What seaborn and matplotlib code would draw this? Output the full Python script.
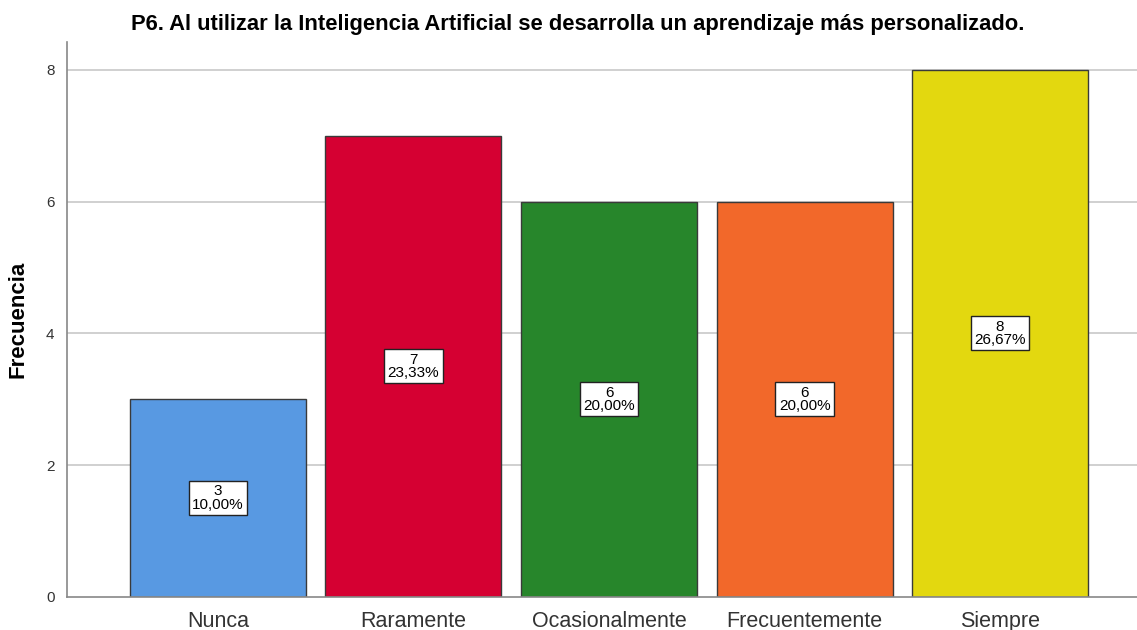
import matplotlib
matplotlib.use("Agg")
import matplotlib.pyplot as plt
import seaborn as sns
import pandas as pd

categories = ["Nunca", "Raramente", "Ocasionalmente", "Frecuentemente", "Siempre"]
counts = [3, 7, 6, 6, 8]
percents = ["10,00%", "23,33%", "20,00%", "20,00%", "26,67%"]
colors = ["#5899E2", "#D50032", "#27862B", "#F2682A", "#E3D80F"]
yticks = [0, 2, 4, 6, 8]

sns.set_theme(style="white")
plt.rcParams["font.family"] = ["Liberation Sans", "DejaVu Sans"]

df = pd.DataFrame({"cat": categories, "n": counts})

fig = plt.figure(figsize=(11.37, 6.30), dpi=100)
ax = fig.add_axes([0.0589, 0.0524, 0.9411, 0.8809])
ax.set_axisbelow(True)
for y in yticks[1:]:
    ax.axhline(y, color="#C8C8C8", lw=1.2, zorder=0)

sns.barplot(data=df, x="cat", y="n", hue="cat", palette=colors, legend=False,
            width=0.9, saturation=1, edgecolor="#3A3A3A", linewidth=1.0, ax=ax, zorder=2)

for i, (c, p) in enumerate(zip(counts, percents)):
    ax.text(i, c / 2, f"{c}\n{p}", ha="center", va="center", fontsize=11,
            linespacing=0.95, color="black", zorder=5,
            bbox=dict(boxstyle="square,pad=0.22", fc="white", ec="#222222", lw=1.0))

ax.set_xlim(-0.772, 4.70)
ax.set_ylim(0, 8.42)
ax.set_yticks(yticks)
ax.set_yticklabels([str(v) for v in yticks], fontsize=11, color="#333333")
ax.tick_params(axis="x", labelsize=15.5, colors="#333333", length=0, pad=10)
ax.tick_params(axis="y", length=0, pad=9)
ax.set_xlabel("")
ax.set_ylabel("Frecuencia", fontsize=16, fontweight="bold", color="black")
ax.yaxis.set_label_coords(-0.036, 0.5)
for s in ["top", "right"]:
    ax.spines[s].set_visible(False)
for s in ["left", "bottom"]:
    ax.spines[s].set_color("#888888")
    ax.spines[s].set_linewidth(1.2)
fig.suptitle("P6. Al utilizar la Inteligencia Artificial se desarrolla un aprendizaje más personalizado.",
             fontsize=15.8, fontweight="bold", color="black", x=0.508, y=0.977)

fig.savefig("out.png", dpi=100)
